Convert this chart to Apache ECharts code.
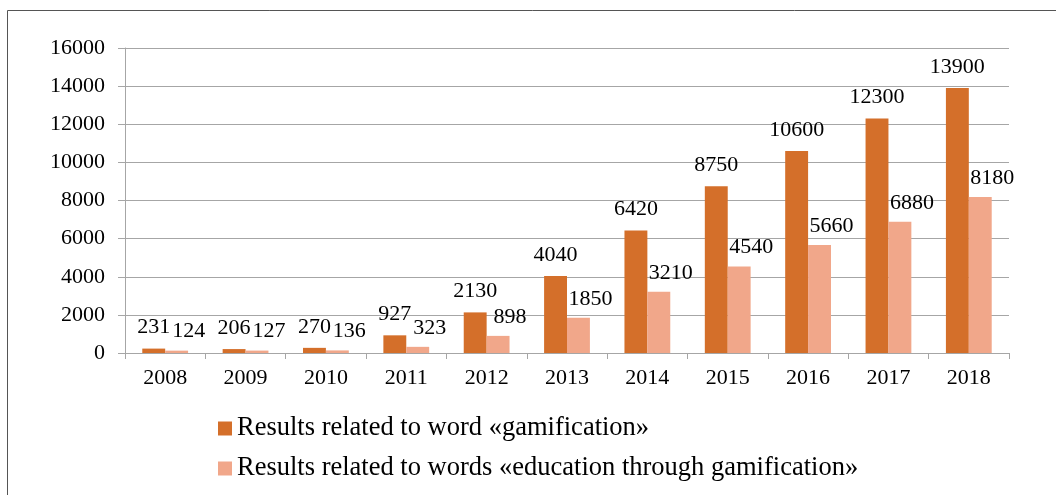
<!DOCTYPE html>
<html>
<head>
<meta charset="utf-8">
<script src="https://cdn.jsdelivr.net/npm/echarts@6/dist/echarts.min.js"></script>
<style>
html,body{margin:0;padding:0;background:#fff;}
#chart{width:1056px;height:495px;}
</style>
</head>
<body>
<div id="chart"></div>
<script>
const categories = ['2008','2009','2010','2011','2012','2013','2014','2015','2016','2017','2018'];
const gamification = [231,206,270,927,2130,4040,6420,8750,10600,12300,13900];
const educationGamification = [124,127,136,323,898,1850,3210,4540,5660,6880,8180];
const seriesNames = ['Results related to word «gamification»','Results related to words «education through gamification»'];

const font = "'Liberation Serif', 'DejaVu Serif', serif";
const chart = echarts.init(document.getElementById('chart'));
chart.setOption({
  animation: false,
  textStyle: { fontFamily: font },
  graphic: [{
    type: 'rect', silent: true,
    shape: { x: 7.5, y: 10.5, width: 1200, height: 600 },
    style: { fill: 'none', stroke: '#555', lineWidth: 1 }
  }],
  grid: { left: 125, right: 47, top: 48, bottom: 142, containLabel: false },
  legend: {
    orient: 'vertical', left: 213, top: 410,
    itemWidth: 14, itemHeight: 14, itemGap: 13,
    icon: 'rect',
    textStyle: { fontFamily: font, fontSize: 26.5, color: '#000' },
    data: seriesNames
  },
  xAxis: {
    type: 'category', data: categories,
    axisLine: { lineStyle: { color: '#a6a6a6' } },
    axisTick: { show: true, length: 6, lineStyle: { color: '#a6a6a6' } },
    axisLabel: { fontFamily: font, fontSize: 22, color: '#000', margin: 14 }
  },
  yAxis: {
    type: 'value', min: 0, max: 16000, interval: 2000,
    axisLine: { show: true, lineStyle: { color: '#a6a6a6' } },
    axisTick: { show: true, length: 7, lineStyle: { color: '#a6a6a6' } },
    axisLabel: { fontFamily: font, fontSize: 22, color: '#000', margin: 20, formatter: v => String(v) },
    splitLine: { lineStyle: { color: '#a6a6a6' } }
  },
  series: [
    {
      name: seriesNames[0], type: 'bar', data: gamification,
      barWidth: '28.5%', barGap: '0%',
      itemStyle: { color: '#D46F2A' },
      label: { show: true, position: 'top', distance: 10, fontFamily: font, fontSize: 22, color: '#000' }
    },
    {
      name: seriesNames[1], type: 'bar', data: educationGamification,
      barWidth: '28.5%',
      itemStyle: { color: '#F1A78A' },
      label: { show: true, position: 'top', distance: 8, offset: [12, 0], fontFamily: font, fontSize: 22, color: '#000' }
    }
  ]
});
</script>
</body>
</html>
